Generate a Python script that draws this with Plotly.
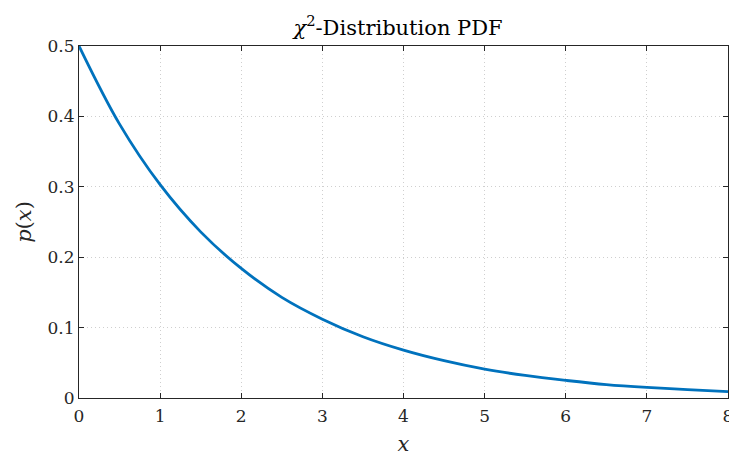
import plotly.graph_objects as go

x_vals = [0, 0.5, 1, 1.5, 2, 2.5, 3, 3.5, 4, 4.5, 5, 5.5, 6, 6.5, 7, 7.5, 8]
pdf_vals = [0.5, 0.389, 0.303, 0.236, 0.184, 0.143, 0.112, 0.087, 0.068,
            0.053, 0.041, 0.032, 0.025, 0.019, 0.015, 0.012, 0.009]
x_ticks = [0, 1, 2, 3, 4, 5, 6, 7, 8]
y_ticks = [0, 0.1, 0.2, 0.3, 0.4, 0.5]
y_tick_text = ["0", "0.1", "0.2", "0.3", "0.4", "0.5"]

FONT = "DejaVu Serif"
AX = "#262626"

fig = go.Figure()
fig.add_trace(go.Scatter(x=x_vals, y=pdf_vals, mode="lines",
                         line=dict(color="#0072BD", width=2.8, shape="spline"),
                         showlegend=False, cliponaxis=False))

common = dict(showline=True, linecolor=AX, linewidth=1, mirror="ticks",
              ticks="inside", ticklen=5, tickcolor=AX, tickwidth=1,
              showgrid=True, gridcolor="#cfcfcf", griddash="1px,3px", gridwidth=1,
              zeroline=False, automargin=False, ticklabeloverflow="allow",
              tickfont=dict(family=FONT, size=17, color=AX))

fig.update_xaxes(range=[0, 8], tickvals=x_ticks, ticklabelstandoff=3,
                 title=dict(text="<i>x</i>", font=dict(family=FONT, size=21, color=AX), standoff=18),
                 **common)
fig.update_yaxes(range=[0, 0.5], tickvals=y_ticks, ticktext=y_tick_text,
                 title=dict(text="<i>p</i>(<i>x</i>)", font=dict(family=FONT, size=21, color=AX), standoff=10),
                 **common)

fig.update_layout(
    width=729, height=456,
    margin=dict(l=79, r=1, t=46, b=58, autoexpand=False),
    paper_bgcolor="white", plot_bgcolor="white",
    title=dict(text="<i>χ</i><sup>2</sup>-Distribution PDF", x=0.546, xanchor="center",
               y=0.94, yanchor="middle",
               font=dict(family=FONT, size=21, color="black")),
)

fig.write_html("out.html", config={"displayModeBar": False},
               post_script="document.body.style.margin='0';document.body.style.overflow='hidden';")
